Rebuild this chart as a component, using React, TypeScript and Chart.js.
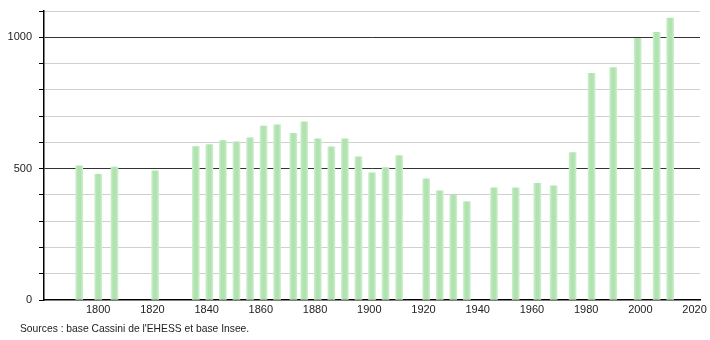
import React, { useEffect, useRef } from "react";
import { Chart, registerables } from "chart.js";

Chart.register(...registerables);

const years = [1793, 1800, 1806, 1821, 1836, 1841, 1846, 1851, 1856, 1861, 1866, 1872, 1876, 1881, 1886, 1891, 1896, 1901, 1906, 1911, 1921, 1926, 1931, 1936, 1946, 1954, 1962, 1968, 1975, 1982, 1990, 1999, 2006, 2011];
const population = [511, 478, 506, 492, 584, 592, 607, 602, 617, 662, 667, 634, 678, 613, 583, 613, 545, 484, 504, 550, 461, 416, 398, 374, 427, 427, 444, 435, 561, 863, 885, 996, 1019, 1073];
const xTickValues = [1800, 1820, 1840, 1860, 1880, 1900, 1920, 1940, 1960, 1980, 2000, 2020];
const yLabelValues = [0, 500, 1000];
const sourceText = "Sources : base Cassini de l'EHESS et base Insee.";

const FONT = "'Liberation Sans', Arial, sans-serif";

export default function App() {
  const ref = useRef<HTMLCanvasElement | null>(null);

  useEffect(() => {
    if (!ref.current) return;
    const sourcePlugin = {
      id: "sourceText",
      afterDraw(chart: any) {
        const ctx = chart.ctx;
        ctx.save();
        ctx.font = `10.3px ${FONT}`;
        ctx.fillStyle = "#222";
        ctx.textAlign = "left";
        ctx.textBaseline = "middle";
        ctx.fillText(sourceText, 20, 329.5);
        ctx.restore();
      },
    };
    const chart = new Chart(ref.current, {
      type: "bar",
      data: {
        datasets: [
          {
            data: years.map((y, i) => ({ x: y, y: population[i] })),
            barThickness: 7,
            borderWidth: 0,
            backgroundColor: (c: any) => {
              const chartObj = c.chart;
              const xs = chartObj.scales && chartObj.scales.x;
              if (!xs || c.dataIndex === undefined) return "#b2e4b2";
              const px = xs.getPixelForValue(years[c.dataIndex]);
              if (!isFinite(px)) return "#b2e4b2";
              const g = chartObj.ctx.createLinearGradient(px - 3.5, 0, px + 3.5, 0);
              g.addColorStop(0, "#cdeecd");
              g.addColorStop(0.3, "#b0e3b0");
              g.addColorStop(0.7, "#b0e3b0");
              g.addColorStop(1, "#cdeecd");
              return g;
            },
          },
        ],
      },
      options: {
        responsive: false,
        animation: false,
        layout: { padding: { left: 0, right: 10, top: 11, bottom: 0 } },
        plugins: { legend: { display: false }, tooltip: { enabled: false } },
        scales: {
          x: {
            type: "linear",
            offset: false,
            min: 1780,
            max: 2022,
            afterBuildTicks: (s: any) => {
              s.ticks = xTickValues.map((v) => ({ value: v }));
            },
            afterFit: (s: any) => {
              s.height = 40;
              s.paddingLeft = 0;
              s.paddingRight = 0;
            },
            grid: { display: false, drawTicks: false, offset: false },
            border: { display: true, color: "#000", width: 1.5 },
            ticks: {
              maxRotation: 0,
              autoSkip: false,
              padding: 3,
              color: "#222",
              font: { family: FONT, size: 11 },
              callback: (v: any) => String(v),
            },
          },
          y: {
            min: 0,
            max: 1100,
            afterBuildTicks: (s: any) => {
              const t = [];
              for (let v = 0; v <= 1100; v += 100) t.push({ value: v });
              s.ticks = t;
            },
            afterFit: (s: any) => {
              s.width = 44;
              s.paddingTop = 0;
              s.paddingBottom = 0;
            },
            grid: {
              color: (c: any) => {
                const v = c.tick ? c.tick.value : 0;
                if (v === 0) return "rgba(0,0,0,0)";
                return v === 500 || v === 1000 ? "#333" : "#cfcfcf";
              },
              tickColor: "#000",
              tickLength: 5,
              lineWidth: 1,
            },
            border: { display: true, color: "#000", width: 1.5 },
            ticks: {
              autoSkip: false,
              padding: 7,
              color: "#222",
              font: { family: FONT, size: 11 },
              callback: (v: any) => (yLabelValues.includes(Number(v)) ? String(v) : ""),
            },
          },
        },
      },
      plugins: [sourcePlugin],
    } as any);
    return () => chart.destroy();
  }, []);

  return (
    <div style={{ position: "absolute", left: 0, top: 0, width: 710, height: 340, background: "#fff" }}>
      <canvas ref={ref} width={710} height={340} style={{ width: 710, height: 340 }} />
    </div>
  );
}
